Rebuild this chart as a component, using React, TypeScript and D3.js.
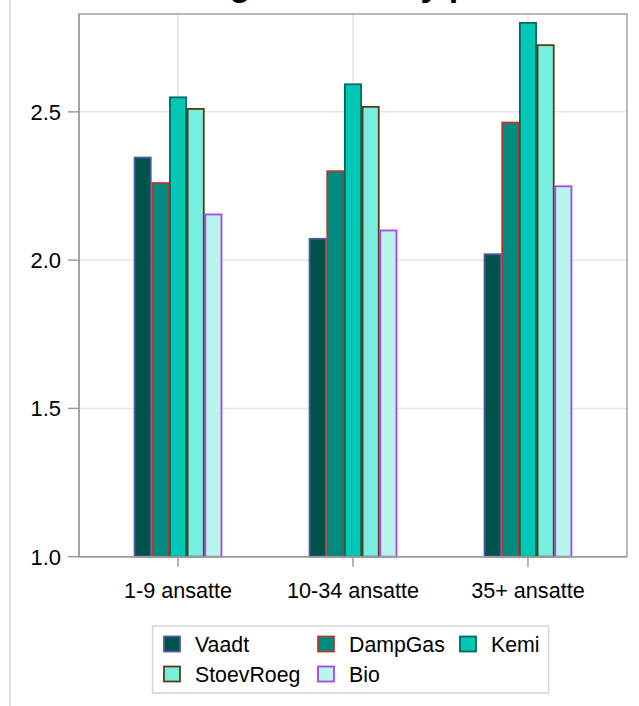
import React from "react";
import * as d3 from "d3";

const categories = ["1-9 ansatte", "10-34 ansatte", "35+ ansatte"];
const seriesNames = ["Vaadt", "DampGas", "Kemi", "StoevRoeg", "Bio"];
const Vaadt = [2.346, 2.072, 2.02];
const DampGas = [2.26, 2.3, 2.464];
const Kemi = [2.549, 2.593, 2.8];
const StoevRoeg = [2.51, 2.517, 2.725];
const Bio = [2.154, 2.1, 2.249];
const yTicks = [1.0, 1.5, 2.0, 2.5];
const title = "Gennemsnitlig score til by på";

const seriesValues: Record<string, number[]> = { Vaadt, DampGas, Kemi, StoevRoeg, Bio };
const fills: Record<string, string> = {
  Vaadt: "#00524a",
  DampGas: "#008b80",
  Kemi: "#00c8b4",
  StoevRoeg: "#78eee0",
  Bio: "#b9f5eb",
};
const strokes: Record<string, string> = {
  Vaadt: "#4a5c9c",
  DampGas: "#b23a2c",
  Kemi: "#006b60",
  StoevRoeg: "#5a3c12",
  Bio: "#a645e8",
};

const W = 639;
const H = 706;
const L = 79, R = 627, T = 14, B = 556.7;
const FONT = "'Liberation Sans', Arial, Helvetica, sans-serif";

export default function App() {
  const x = d3.scalePoint<string>().domain(categories).range([L, R]).padding(0.566);
  const inner = d3.scaleBand<string>().domain(seriesNames).range([-44.2, 44.2]);
  const y = d3.scaleLinear().domain([1, 2.83]).range([B, T]);
  const axisCol = "#979ba0";
  const gridCol = "#e3e3e3";

  const legendCols = [164, 318, 460];
  const legendRows = [644, 674];

  return (
    <svg width={W} height={H} style={{ position: "absolute", left: 0, top: 0 }} fontFamily={FONT}>
      <rect width={W} height={H} fill="#fff" />
      <line x1={10} x2={10} y1={0} y2={H} stroke="#d6d6d6" strokeWidth={1.5} />
      <text x={14.2} y={-4.5} fontSize={34} fontWeight="bold" fill="#000">{title}</text>

      {/* gridlines */}
      {yTicks.filter((t) => t > 1).map((t) => (
        <line key={"gy" + t} x1={L} x2={R} y1={y(t)} y2={y(t)} stroke={gridCol} strokeWidth={1.5} />
      ))}
      {categories.map((c) => (
        <line key={"gx" + c} x1={x(c)} x2={x(c)} y1={T} y2={B} stroke={gridCol} strokeWidth={1.5} />
      ))}

      {/* bars */}
      {categories.map((c, ci) => (
        <g key={c} transform={`translate(${x(c)},0)`}>
          {seriesNames.map((s) => {
            const v = seriesValues[s][ci];
            return (
              <rect
                key={s}
                x={inner(s)! + 0.75}
                y={y(v)}
                width={inner.bandwidth() - 1.5}
                height={y(1) - y(v)}
                fill={fills[s]}
                stroke={strokes[s]}
                strokeWidth={1.8}
              />
            );
          })}
        </g>
      ))}

      {/* frame */}
      <rect x={L} y={T} width={R - L} height={B - T} fill="none" stroke="#a0a3a8" strokeWidth={1.5} />
      <line x1={L} x2={L} y1={T} y2={B} stroke={axisCol} strokeWidth={1.5} />
      <line x1={L} x2={R} y1={B} y2={B} stroke={axisCol} strokeWidth={1.5} />

      {/* y axis */}
      {yTicks.map((t) => (
        <g key={"yt" + t}>
          <line x1={68} x2={L} y1={y(t)} y2={y(t)} stroke={axisCol} strokeWidth={1.5} />
          <text x={61} y={y(t)} dy="0.36em" textAnchor="end" fontSize={22} fill="#000">
            {d3.format(".1f")(t)}
          </text>
        </g>
      ))}

      {/* x axis */}
      {categories.map((c) => (
        <g key={"xt" + c}>
          <line x1={x(c)} x2={x(c)} y1={B} y2={B + 10} stroke={axisCol} strokeWidth={1.5} />
          <text x={x(c)} y={598} textAnchor="middle" fontSize={21.6} fill="#000">{c}</text>
        </g>
      ))}

      {/* legend */}
      <rect x={152.5} y={626} width={396} height={67} fill="#fff" stroke="#d4d4d4" strokeWidth={1.5} />
      {seriesNames.map((s, i) => {
        const cx = legendCols[i % 3];
        const cy = legendRows[Math.floor(i / 3)];
        return (
          <g key={"lg" + s}>
            <rect x={cx} y={cy - 7.5} width={16} height={15} fill={fills[s]} stroke={strokes[s]} strokeWidth={1.8} />
            <text x={cx + 31} y={cy} dy="0.36em" fontSize={21.3} fill="#000">{s}</text>
          </g>
        );
      })}
    </svg>
  );
}
